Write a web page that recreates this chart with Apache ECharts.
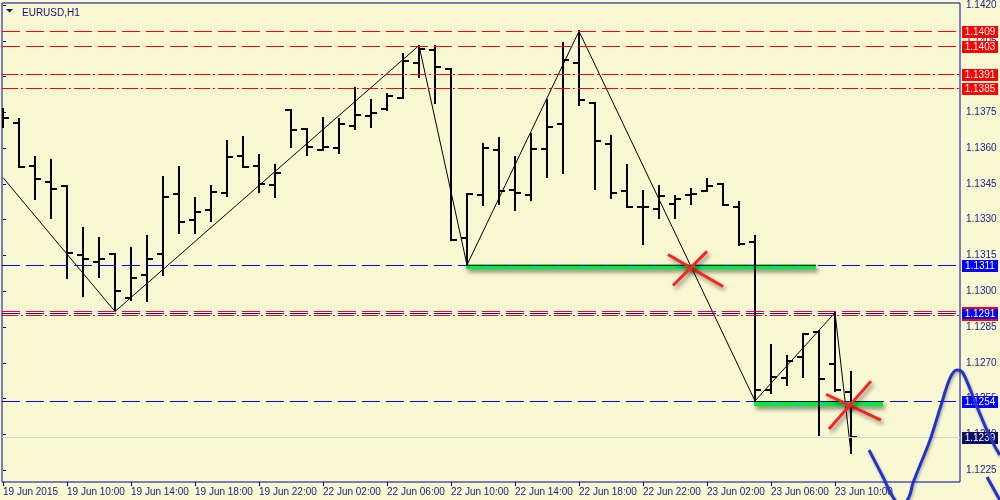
<!DOCTYPE html>
<html><head><meta charset="utf-8">
<script src="https://cdn.jsdelivr.net/npm/echarts@6/dist/echarts.min.js"></script>
<style>html,body{margin:0;padding:0;background:#f8f8d2}#c{width:1000px;height:500px}</style>
</head><body><div id="c"></div>
<script>
// ---- data (bar index 0 = 19 Jun 2015 06:00, H1 bars) ----
const barOpen=[1.13748,1.13706,1.13526,1.13459,1.13443,1.13150,1.13121,1.13154,1.12970,1.13070,
1.13154,1.13409,1.13300,1.13342,1.13413,1.13568,1.13526,1.13447,1.13761,1.13681,
1.13593,1.13602,1.13694,1.13736,1.13765,1.13811,1.13957,1.14012,1.13932,1.13221,
1.13405,1.13593,1.13426,1.13405,1.13597,1.13702,1.13957,1.13790,1.13618,1.13422,
1.13355,1.13346,1.13367,1.13405,1.13422,1.13451,1.13351,1.13208,1.12585,1.12635,
1.12723,1.12828,1.12694,1.12577];
const barHigh=[1.13765,1.13723,1.13564,1.13551,1.13443,1.13263,1.13221,1.13154,1.13183,1.13233,
1.13480,1.13522,1.13392,1.13443,1.13631,1.13648,1.13572,1.13531,1.13761,1.13681,
1.13727,1.13723,1.13853,1.13803,1.13828,1.13995,1.14030,1.14030,1.13932,1.13409,
1.13618,1.13644,1.13564,1.13660,1.13803,1.14041,1.14090,1.13790,1.13652,1.13531,
1.13422,1.13443,1.13401,1.13430,1.13472,1.13451,1.13372,1.13233,1.12773,1.12727,
1.12819,1.12832,1.12910,1.12660];
const barLow=[1.13690,1.13522,1.13388,1.13309,1.13054,1.12978,1.13058,1.12915,1.12962,1.12957,
1.13070,1.13242,1.13246,1.13296,1.13401,1.13522,1.13418,1.13397,1.13606,1.13572,
1.13593,1.13581,1.13681,1.13690,1.13761,1.13811,1.13899,1.13790,1.13213,1.13110,
1.13363,1.13367,1.13342,1.13384,1.13480,1.13497,1.13782,1.13430,1.13392,1.13351,
1.13200,1.13309,1.13309,1.13367,1.13422,1.13363,1.13192,1.12540,1.12572,1.12606,
1.12639,1.12397,1.12581,1.12321];
const barClose=[1.13727,1.13522,1.13472,1.13430,1.13162,1.13137,1.13137,1.13001,1.13054,1.13137,
1.13397,1.13292,1.13330,1.13418,1.13564,1.13522,1.13451,1.13497,1.13677,1.13606,
1.13606,1.13702,1.13740,1.13748,1.13819,1.13966,1.14016,1.13941,1.13213,1.13409,
1.13602,1.13422,1.13413,1.13597,1.13690,1.13970,1.13803,1.13631,1.13413,1.13351,
1.13351,1.13401,1.13388,1.13409,1.13443,1.13363,1.13196,1.12585,1.12639,1.12706,
1.12819,1.12631,1.12585,1.12390];

const xTickBars=[0,4,8,12,16,20,24,28,32,36,40,44,48,52];
const xTickLabels=["19 Jun 2015","19 Jun 10:00","19 Jun 14:00","19 Jun 18:00","19 Jun 22:00","22 Jun 02:00","22 Jun 06:00","22 Jun 10:00","22 Jun 14:00","22 Jun 18:00","22 Jun 22:00","23 Jun 02:00","23 Jun 06:00","23 Jun 10:00"];
const yTickValues=[1.1225,1.1240,1.1255,1.1270,1.1285,1.1300,1.1315,1.1330,1.1345,1.1360,1.1375,1.1390,1.1405,1.1420];

const zigzagBars=[0,7,26,29,36,47,52,53];
const zigzagPrices=[1.13476,1.12915,1.14030,1.13110,1.14090,1.12540,1.12910,1.12321];

// horizontal levels: price, line kind, tag kind
const levelPrices=[1.1409,1.1403,1.1391,1.1385,1.1311,1.1291,1.12915,1.12900,1.1254,1.1239];
const levelKinds =['redDash','redDash','redDot','redDot','blueDash','blueDash','redDash','redDot','blueDash','bid'];
const levelTags  =['red','red','red','red','blue','blueRed','none','none','blue','navy'];
// dark dashed pieces of the 1.1311 / 1.1254 levels lying on the green bands
const overlayPrices=[1.1311,1.1254];
const overlayFrom=[28.94,46.94];
const overlayTo=[50.8,55.0];

const greenUpper=[[28.94,1.13102],[50.8,1.13102]];
const greenLower=[[46.94,1.12528],[55.0,1.12528]];
const crossA1=[[41.56,1.13154],[45.0,1.13020]];
const crossA2=[[41.875,1.13024],[44.0,1.13167]];
const crossB1=[[51.44,1.12568],[54.875,1.12459]];
const crossB2=[[51.625,1.12422],[54.25,1.12623]];
const forecastA=[[54.125,1.12334],[55.0,1.12221],[55.625,1.12137],[56.125,1.12100],[56.625,1.12137],[56.875,1.12196],[57.94,1.12376],[58.69,1.12535],[59.19,1.12635],[59.625,1.12669],[60.0,1.12656],[60.875,1.12514],[61.69,1.12388],[62.3,1.12313]];
const forecastB=[[61.5,1.12221],[62.3,1.12125]];

// ---- chart ----
const FONT='Liberation Sans';
const AX='#20208c';
const Y_MIN=1.1220, Y_MAX=1.142084, X_MIN=-0.0625, X_MAX=59.8125;
const PX_Y=(Y_MAX-Y_MIN)/480, PX_X=(X_MAX-X_MIN)/958;
const LINE_STYLE={redDash:{color:'#ff0000',dash:[18,6]},redDot:{color:'#ff0000',dash:[16,3,2,3]},
  blueDash:{color:'#0000ff',dash:[18,6]},bid:{color:'#d0d0d0',dash:null},black:{color:'#111111',dash:[18,6]}};
const TAG_FILL={red:'#ff0000',blue:'#0000ff',blueRed:'#0000ff',navy:'#0c0c66'};

// 1px filled pieces forming a (dashed) horizontal line
function dashPieces(x0,x1,y,color,dash){
  if(!dash) return [{type:'rect',shape:{x:x0,y:y,width:x1-x0,height:1},style:{fill:color,stroke:null}}];
  const out=[]; let x=x0, j=0;
  while(x<x1){
    const len=dash[j%dash.length];
    if(j%2===0) out.push({type:'rect',shape:{x:x,y:y,width:Math.min(len,x1-x),height:1},style:{fill:color,stroke:null}});
    x+=len; j++;
  }
  return out;
}

const chart=echarts.init(document.getElementById('c'),null,{renderer:'canvas'});
const shadow={shadowBlur:4,shadowColor:'rgba(0,0,0,0.45)',shadowOffsetX:2,shadowOffsetY:3};
const curveShadow={shadowBlur:3,shadowColor:'rgba(0,0,0,0.3)',shadowOffsetX:1,shadowOffsetY:2};
const seg=(d,color,w,z,extra)=>({type:'line',data:d,showSymbol:false,silent:true,z:z,clip:false,
  lineStyle:Object.assign({color:color,width:w,cap:'butt'},extra||{})});

chart.setOption({
  animation:false,
  backgroundColor:'#f8f8d2',
  title:{text:'EURUSD,H1',left:17,top:3,textStyle:{fontSize:10,fontWeight:'normal',color:'#10107a',fontFamily:FONT}},
  graphic:[{type:'polygon',shape:{points:[[6,9],[13,9],[9.5,12.5]]},style:{fill:'#10107a'}}],
  grid:[
    {left:2,top:2,right:40,bottom:18,show:true,borderColor:'#0000a0',borderWidth:1,backgroundColor:'transparent'},
    {left:2,top:2,right:0,bottom:0,show:false}
  ],
  xAxis:[
    {type:'value',min:X_MIN,max:X_MAX,axisLine:{show:false},splitLine:{show:false},
    axisTick:{show:true,customValues:xTickBars,length:4,lineStyle:{color:'#0000a0'}},
    axisLabel:{customValues:xTickBars,formatter:v=>xTickLabels[xTickBars.indexOf(Math.round(v))],
      align:'left',margin:5,color:AX,fontSize:10,fontFamily:FONT}},
    {type:'value',gridIndex:1,min:X_MIN,max:X_MIN+998*PX_X,show:false,splitLine:{show:false}}
  ],
  yAxis:[
    {type:'value',position:'right',min:Y_MIN,max:Y_MAX,axisLine:{show:false},splitLine:{show:false},
    axisTick:{show:true,customValues:yTickValues,length:3,lineStyle:{color:'#0000a0'}},
    axisLabel:{customValues:yTickValues,formatter:v=>v.toFixed(4),margin:6,color:AX,fontSize:10,fontFamily:FONT}},
    {type:'value',gridIndex:1,min:Y_MAX-498*PX_Y,max:Y_MAX,show:false,splitLine:{show:false}}
  ],
  series:[
    {type:'line',name:'zigzag',data:zigzagBars.map((b,i)=>[b,zigzagPrices[i]]),showSymbol:false,z:2,silent:true,
      lineStyle:{color:'#000',width:1}},
    seg(greenUpper,'#00e845',5,3,shadow),
    seg(greenLower,'#00e845',5,3,shadow),
    {type:'custom',name:'bars',z:5,clip:true,
      data:barOpen.map((o,i)=>[i,o,barHigh[i],barLow[i],barClose[i]]),
      encode:{x:0,y:[1,2,3,4]},
      renderItem:function(params,api){
        const k=api.value(0);
        const po=api.coord([k,api.value(1)]),ph=api.coord([k,api.value(2)]),
              pl=api.coord([k,api.value(3)]),pc=api.coord([k,api.value(4)]);
        const x=Math.round(po[0]);
        const st={stroke:'#000',lineWidth:2};
        const yo=Math.round(po[1]),yc=Math.round(pc[1]);
        return {type:'group',children:[
          {type:'line',shape:{x1:x,y1:Math.round(ph[1])-1,x2:x,y2:Math.round(pl[1])+1},style:st},
          {type:'line',shape:{x1:x-6,y1:yo,x2:x,y2:yo},style:st},
          {type:'line',shape:{x1:x,y1:yc,x2:x+6,y2:yc},style:st}
        ]};
      }},
    // level lines and price tags drawn last, above everything else
    {type:'custom',name:'levels',z:20,clip:false,silent:true,
      data:levelPrices.map((v,i)=>[X_MIN,v,i]),
      encode:{x:0,y:1},
      renderItem:function(params,api){
        const i=api.value(2), v=api.value(1);
        const cs=params.coordSys;
        const yy=Math.round(api.coord([X_MIN,v])[1]);
        const ls=LINE_STYLE[levelKinds[i]];
        const kids=dashPieces(cs.x,cs.x+cs.width,yy,ls.color,ls.dash);
        const t=levelTags[i];
        if(t!=='none'){
          const rx=cs.x+cs.width+2;
          if(t==='blueRed'){
            kids.push({type:'rect',shape:{x:rx,y:yy-6,width:36,height:14},style:{fill:'#ff0000'},z2:10});
            kids.push({type:'rect',shape:{x:rx,y:yy-4,width:36,height:10},style:{fill:'#0000ff'},z2:11});
          } else {
            kids.push({type:'rect',shape:{x:rx,y:yy-5,width:36,height:12},style:{fill:TAG_FILL[t]},z2:10});
          }
          kids.push({type:'text',x:rx+18,y:yy+1,z2:12,style:{text:v.toFixed(4),fill:'#ffffff',
            font:'10px '+FONT,align:'center',verticalAlign:'middle'}});
        }
        return {type:'group',children:kids};
      }},
    {type:'custom',name:'overlay',z:21,clip:true,silent:true,
      data:overlayPrices.map((v,i)=>[overlayFrom[i],v,overlayTo[i]]),
      encode:{x:[0,2],y:1},
      renderItem:function(params,api){
        const a=api.coord([api.value(0),api.value(1)]), b=api.coord([api.value(2),api.value(1)]);
        return {type:'group',children:dashPieces(a[0],b[0],Math.round(a[1]),LINE_STYLE.black.color,LINE_STYLE.black.dash)};
      }},
    seg(crossA1,'#ff2020',3,22,shadow),
    seg(crossA2,'#ff2020',3,22,shadow),
    seg(crossB1,'#ff2020',3,22,shadow),
    seg(crossB2,'#ff2020',3,22,shadow),
    Object.assign(seg(forecastA,'#2233cc',3,23,curveShadow),{smooth:0.35,xAxisIndex:1,yAxisIndex:1}),
    Object.assign(seg(forecastB,'#2233cc',3,23,curveShadow),{smooth:0.35,xAxisIndex:1,yAxisIndex:1})
  ]
});
</script></body></html>
